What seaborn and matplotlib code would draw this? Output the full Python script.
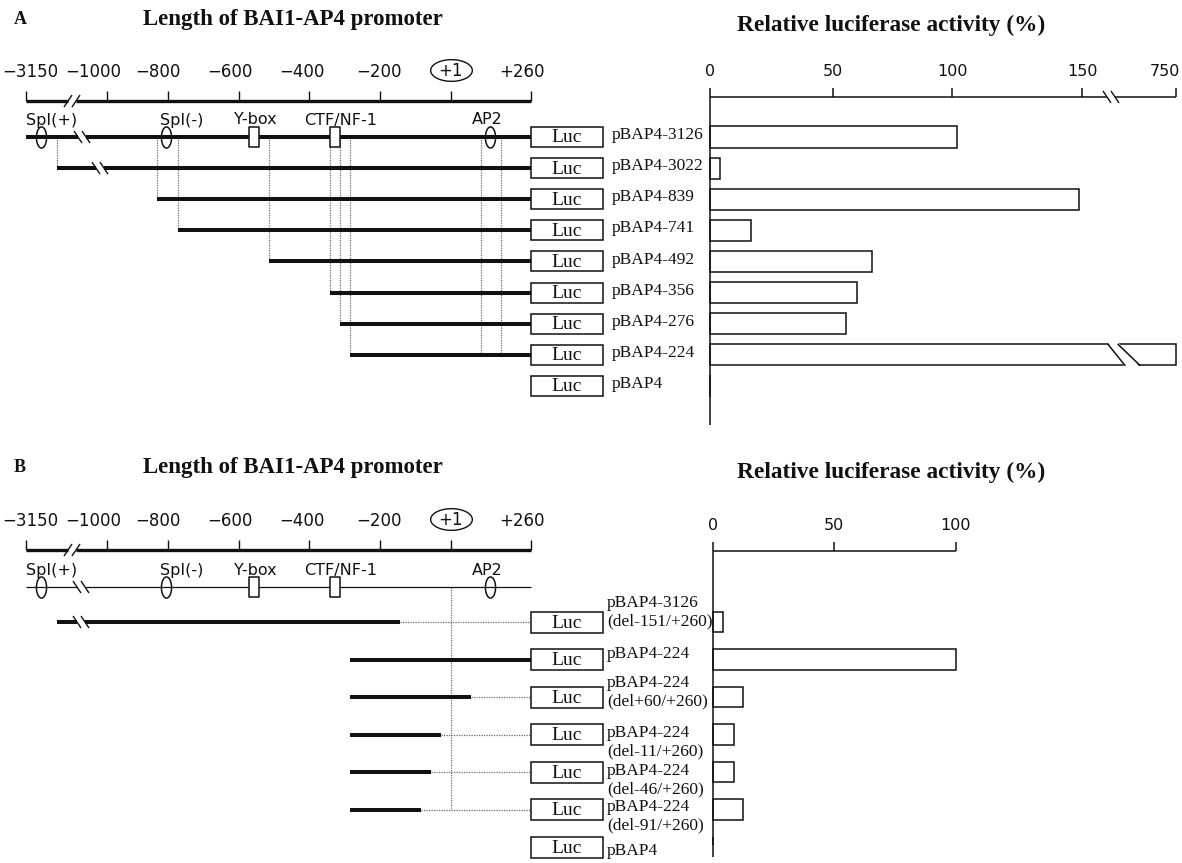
import numpy as np
import matplotlib
matplotlib.use("Agg")
import matplotlib.pyplot as plt
import matplotlib.transforms as mtransforms
from matplotlib.patches import Rectangle
from matplotlib.path import Path
import seaborn as sns

sns.set_theme(style="white")
plt.rcParams["font.family"] = ["DejaVu Sans"]

# ---------------- data ----------------
scale_ticks = [-3150, -1000, -800, -600, -400, -200, 0, 260]
scale_labels = ["\u22123150", "\u22121000", "\u2212800", "\u2212600",
                "\u2212400", "\u2212200", "+1", "+260"]

element_names = ["SpI(+)", "SpI(-)", "Y-box", "CTF/NF-1", "AP2"]
element_pos = [-2750, -806, -557, -327, 127]
element_kind = ["ellipse", "ellipse", "box", "box", "ellipse"]
ap2_bounds = [97, 162]

constructs_A = ["pBAP4-3126", "pBAP4-3022", "pBAP4-839", "pBAP4-741",
                "pBAP4-492", "pBAP4-356", "pBAP4-276", "pBAP4-224", "pBAP4"]
start_A = [-3150, -2330, -836, -772, -514, -342, -313, -285, np.nan]
end_A = [260, 260, 260, 260, 260, 260, 260, 260, np.nan]
activity_A = [102, 4, 149, 16.5, 66.5, 60, 55.5, 750, 0]
ticks_A = [0, 50, 100, 150, 750]

constructs_B = ["pBAP4-3126\n(del-151/+260)", "pBAP4-224",
                "pBAP4-224\n(del+60/+260)", "pBAP4-224\n(del-11/+260)",
                "pBAP4-224\n(del-46/+260)", "pBAP4-224\n(del-91/+260)", "pBAP4"]
start_B = [-2330, -285, -285, -285, -285, -285, np.nan]
end_B = [-144, 260, 65, -29, -56, -85, np.nan]
activity_B = [4, 100, 12.5, 8.5, 8.5, 12.5, 0]
ticks_B = [0, 50, 100]

# ---------------- layout / style ----------------
W, H = 1182, 863
SCALE_PX = [26, 107, 168, 239, 309, 380, 451, 531]   # drawn position of the scale ticks
SCALE_LABEL_OFF = [4, -14, -10, -9, -7, -1, 0, -9]   # label shift (px) from its tick
BAR_PX_A = [0, 123, 242, 372, 466]
BAR_PX_B = [0, 121, 243]
INK = "#111111"
DOT = "#6a6a6a"
SERIF = ["Liberation Serif", "DejaVu Serif"]
SANS = ["DejaVu Sans"]

fig = plt.figure(figsize=(W / 100, H / 100), dpi=100)
fig.patch.set_facecolor("white")


def piecewise(xs, ys):
    xs = np.asarray(xs, float)
    ys = np.asarray(ys, float)
    s0 = (ys[1] - ys[0]) / (xs[1] - xs[0])
    s1 = (ys[-1] - ys[-2]) / (xs[-1] - xs[-2])
    big = 1e5
    xe = np.concatenate([[xs[0] - big], xs, [xs[-1] + big]])
    ye = np.concatenate([[ys[0] - big * s0], ys, [ys[-1] + big * s1]])

    def fwd(v):
        return np.interp(np.asarray(v, float), xe, ye)

    def inv(v):
        return np.interp(np.asarray(v, float), ye, xe)
    return fwd, inv


def add_ax(x0, y0, x1, y1):
    ax = fig.add_axes([x0 / W, 1 - y1 / H, (x1 - x0) / W, (y1 - y0) / H])
    ax.set_facecolor("none")
    for s in ax.spines.values():
        s.set_visible(False)
    return ax


def slash_pair(ax, inv, c_px, y, dy, desc=True, lw=1.0):
    for off in (-4, 4):
        x0 = float(inv(c_px + off - 4))
        x1 = float(inv(c_px + off + 4))
        ys = [y - dy, y + dy] if desc else [y + dy, y - dy]
        ax.plot([x0, x1], ys, color=INK, lw=lw, zorder=6, solid_capstyle="butt")


def hline_break(ax, inv, a, b, y, lw, c_px, step, desc=True):
    ax.plot([a, float(inv(c_px - 4))], [y, y], color=INK, lw=lw, solid_capstyle="butt", zorder=3)
    ax.plot([float(inv(c_px + 4)), b], [y, y], color=INK, lw=lw, solid_capstyle="butt", zorder=3)
    slash_pair(ax, inv, c_px, y, 6 / step, desc=desc)


t = np.linspace(0, 2 * np.pi, 65)
ELLIPSE = Path(np.c_[0.48 * np.cos(t), np.sin(t)], closed=True)
WIDE_ELLIPSE = Path(np.c_[np.cos(t), 0.52 * np.sin(t)], closed=True)
BOX = Path([(-0.5, -1), (0.5, -1), (0.5, 1), (-0.5, 1), (-0.5, -1)], closed=True)

fD, iD = piecewise(scale_ticks, SCALE_PX)


def diagram_axes(top, bottom, ry):
    axd = add_ax(0, top, 710, bottom)
    axd.set_xscale("function", functions=(fD, iD))
    axd.set_xlim(float(iD(0)), float(iD(710)))
    axd.set_ylim(ry(bottom), ry(top))
    axd.set_xticks([])
    axd.set_yticks([])
    axd.grid(False)
    return axd


def header(axd, ry, step, letter, title_y, tick_y, scale_y, elab_y, elem_y,
           thin_line, line_brk):
    fig.text(14 / W, 1 - title_y / H, letter, family=SERIF, weight="bold",
             size=13, ha="left", va="center", color=INK)
    fig.text(293 / W, 1 - title_y / H, "Length of BAI1-AP4 promoter", family=SERIF,
             weight="bold", size=16.5, ha="center", va="center", color=INK)
    ys = ry(scale_y)
    hline_break(axd, iD, scale_ticks[0], scale_ticks[-1], ys, 2.4, 72, step, desc=False)
    axd.vlines(scale_ticks, ry(scale_y - 10), ys, color=INK, lw=1.0)
    for tk, lab, off in zip(scale_ticks, scale_labels, SCALE_LABEL_OFF):
        xl = float(iD(fD(tk) + off))
        if lab == "+1":
            axd.plot([xl], [ry(tick_y - 2)], marker=WIDE_ELLIPSE, ms=30, mfc="none",
                     mec=INK, mew=1.0, ls="none")
        axd.text(xl, ry(tick_y - 1 if lab == "+1" else tick_y), lab, ha="center",
                 va="center", size=12, color=INK, family=SANS)
    ye = ry(elem_y)
    if thin_line:
        hline_break(axd, iD, scale_ticks[0], scale_ticks[-1], ye, 0.9, line_brk, step)
    label_off = [10, 16, 1, 6, -3]
    for name, pos, kind, off in zip(element_names, element_pos, element_kind, label_off):
        if kind == "ellipse":
            axd.plot([pos], [ye], marker=ELLIPSE, ms=15.2, mfc="none", mec=INK,
                     mew=1.1, ls="none", zorder=7)
        else:
            axd.plot([pos], [ye], marker=BOX, ms=14.4, mfc="white", mec=INK,
                     mew=1.1, ls="none", zorder=7)
        axd.text(float(iD(fD(pos) + off)), ry(elab_y), name, ha="center", va="center",
                 size=11.5, color=INK, family=SANS)


def luc_and_labels(axd, names, luc_h, label_x, label_dy, step):
    bt = mtransforms.blended_transform_factory(axd.transAxes, axd.transData)
    for i, name in enumerate(names):
        axd.add_patch(Rectangle((531 / 710, i - luc_h / 2), 72 / 710, luc_h, transform=bt,
                                fc="white", ec=INK, lw=1.1, zorder=4))
        axd.text(567 / 710, i + 0.03, "Luc", transform=bt, ha="center", va="center",
                 family=SERIF, size=14, color=INK, zorder=5)
        axd.text(label_x / 710, i + (label_dy[i] - 10) / step, name, transform=bt,
                 ha="left", va="top", family=SERIF, size=12.5, color=INK,
                 linespacing=1.2)


def bar_axes(top, bottom, ry, bar_x0, names, acts, ticks, tick_px, bar_w,
             axis_y, tick_y, bar_bottom, title_y, axis_brk=None, bar_brk=None):
    axb = add_ax(bar_x0 - 10, top, W, bottom)
    sns.barplot(x=acts, y=names, order=names, orient="h", ax=axb, color="white",
                edgecolor=INK, linewidth=1.1, width=bar_w, saturation=1, errorbar=None)
    fb, ib = piecewise(ticks, tick_px)
    axb.set_xscale("function", functions=(fb, ib))
    axb.set_xlim(float(ib(-10)), float(ib(W - bar_x0)))
    axb.set_ylim(ry(bottom), ry(top))
    axb.set_xticks([])
    axb.set_yticks([])
    axb.set_xlabel("")
    axb.set_ylabel("")
    axb.grid(False)
    for s in axb.spines.values():
        s.set_visible(False)
    ya = ry(axis_y)
    step = 1.0 / (ry(1) - ry(0))
    if axis_brk is None:
        axb.plot([ticks[0], ticks[-1]], [ya, ya], color=INK, lw=1.1, solid_capstyle="butt")
    else:
        hline_break(axb, ib, ticks[0], ticks[-1], ya, 1.1, axis_brk, step, desc=True)
    axb.vlines(ticks, ry(axis_y - 9), ya, color=INK, lw=1.1)
    axb.vlines([ticks[0]], ya, ry(bar_bottom), color=INK, lw=1.1, zorder=8)
    for tk in ticks:
        right_edge = float(fb(tk)) + bar_x0 + 16
        if right_edge > W:
            axb.text(float(ib(W - 2 - bar_x0)), ry(tick_y), str(tk), ha="right",
                     va="center", size=11.5, color=INK, family=SANS)
        else:
            axb.text(tk, ry(tick_y), str(tk), ha="center", va="center", size=11.5,
                     color=INK, family=SANS)
    fig.text(891 / W, 1 - title_y / H, "Relative luciferase activity (%)", family=SERIF,
             weight="bold", size=16.8, ha="center", va="center", color=INK)
    if bar_brk is not None:
        for i, v in enumerate(acts):
            if v > ticks[-2]:
                tp, bm = i - bar_w / 2, i + bar_w / 2
                a1, b1, a2, b2 = [float(ib(p)) for p in bar_brk]
                axb.fill([a1, a2, b2, b1], [tp - 0.06, tp - 0.06, bm + 0.06, bm + 0.06],
                         color="white", lw=0, zorder=5)
                axb.plot([a1, b1], [tp, bm], color=INK, lw=1.1, zorder=6)
                axb.plot([a2, b2], [tp, bm], color=INK, lw=1.1, zorder=6)
    return axb


# ======================= Panel A =======================
rowA0, stepA = 137.0, 31.125
ryA = lambda px: (px - rowA0) / stepA
axA = diagram_axes(0, 430, ryA)
header(axA, ryA, stepA, "A", 20, 72, 101, 120, rowA0, False, None)
brkA = {0: 82, 1: 100}
valid_A = [i for i, s in enumerate(start_A) if not np.isnan(s)]
for i in valid_A:
    if i in brkA:
        hline_break(axA, iD, start_A[i], end_A[i], i, 2.9, brkA[i], stepA)
    else:
        axA.plot([start_A[i], end_A[i]], [i, i], color=INK, lw=2.9,
                 solid_capstyle="butt", zorder=3)
for i in valid_A[1:]:
    axA.vlines(start_A[i], 0, i, color=DOT, lw=0.9, linestyles=(0, (1, 1)), zorder=1)
axA.vlines(ap2_bounds, 0, valid_A[-1], color=DOT, lw=0.9, linestyles=(0, (1, 1)), zorder=1)
luc_and_labels(axA, constructs_A, 20 / stepA, 612, [0] * len(constructs_A), stepA)
bar_axes(0, 430, ryA, 710, constructs_A, activity_A, ticks_A, BAR_PX_A, 0.68,
         97, 72, 425, 25, axis_brk=401, bar_brk=(398, 415, 408, 430))

# ======================= Panel B =======================
rowB0, stepB = 622.0, 37.5
ryB = lambda px: (px - rowB0) / stepB
axB = diagram_axes(430, 863, ryB)
header(axB, ryB, stepB, "B", 467, 521, 550, 570, 587, True, 81)
valid_B = [i for i, s in enumerate(start_B) if not np.isnan(s)]
for i in valid_B:
    if i == 0:
        hline_break(axB, iD, start_B[i], end_B[i], i, 2.9, 81, stepB)
    else:
        axB.plot([start_B[i], end_B[i]], [i, i], color=INK, lw=2.9,
                 solid_capstyle="butt", zorder=3)
    if end_B[i] < scale_ticks[-1]:
        axB.plot([end_B[i], scale_ticks[-1]], [i, i], color=DOT, lw=0.9,
                 ls=(0, (1, 1)), zorder=2)
axB.vlines(0, ryB(587), valid_B[-1], color=DOT, lw=0.9, linestyles=(0, (1, 1)), zorder=1)
luc_and_labels(axB, constructs_B, 21 / stepB, 607, [-17, -4, -12, 0, 1, -1, 6], stepB)
bar_axes(430, 863, ryB, 713, constructs_B, activity_B, ticks_B, BAR_PX_B, 0.55,
         551, 525, 845, 472)

fig.savefig("out.png", dpi=100, facecolor="white")
